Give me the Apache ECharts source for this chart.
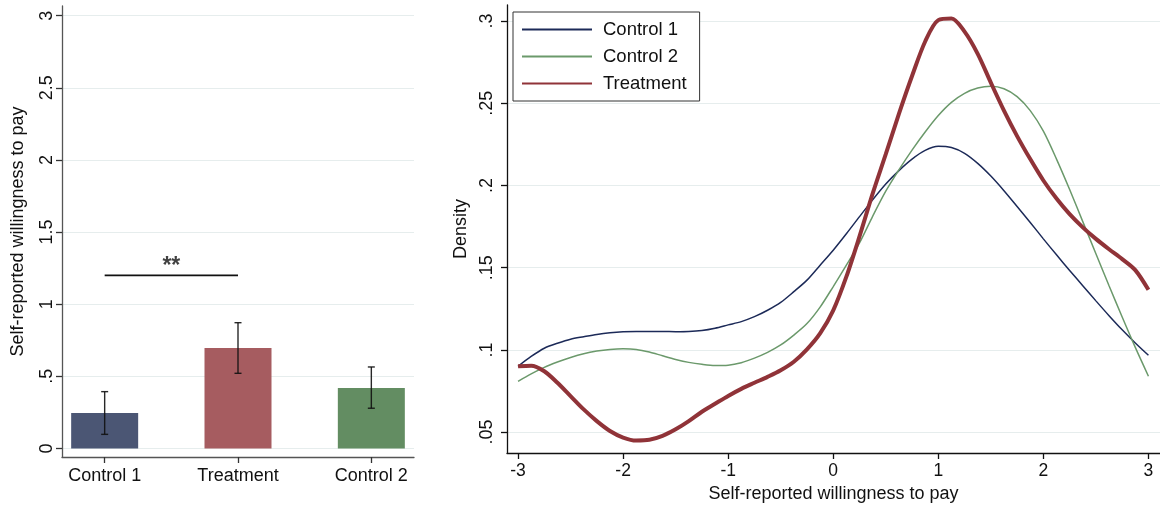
<!DOCTYPE html>
<html>
<head>
<meta charset="utf-8">
<script src="https://cdn.jsdelivr.net/npm/echarts@6/dist/echarts.min.js"></script>
<style>
html,body{margin:0;padding:0;background:#fff;}
#chart{width:1160px;height:508px;}
</style>
</head>
<body>
<div id="chart"></div>
<script>
// ---- Left panel data ----
const groups = ['Control 1', 'Treatment', 'Control 2'];
const groupPos = [1, 2, 3];
const means = [0.246, 0.696, 0.419];
const ciLow = [0.098, 0.521, 0.279];
const ciHigh = [0.394, 0.872, 0.565];
const barColors = ['#4b5674', '#a65c60', '#638d62'];
const sigFrom = 1, sigTo = 2, sigLevel = 1.2, sigText = '**';
const leftYTicks = [0, 0.5, 1, 1.5, 2, 2.5, 3];
const leftYLabels = ['0', '.5', '1', '1.5', '2', '2.5', '3'];

// ---- Right panel data (kernel densities, read at steps of 0.125) ----
const xGrid = [-3, -2.875, -2.75, -2.625, -2.5, -2.375, -2.25, -2.125, -2, -1.875, -1.75, -1.625,
               -1.5, -1.375, -1.25, -1.125, -1, -0.875, -0.75, -0.625, -0.5, -0.375, -0.25, -0.125,
               0, 0.125, 0.25, 0.375, 0.5, 0.625, 0.75, 0.875, 1, 1.125, 1.25, 1.375,
               1.5, 1.625, 1.75, 1.875, 2, 2.125, 2.25, 2.375, 2.5, 2.625, 2.75, 2.875, 3];
const densControl1 = [0.0900, 0.0960, 0.1010, 0.1040, 0.1065, 0.1080, 0.1094, 0.1104, 0.1110, 0.1112, 0.1112, 0.1112,
                      0.1111, 0.1112, 0.1118, 0.1132, 0.1152, 0.1172, 0.1202, 0.1241, 0.1289, 0.1354, 0.1424, 0.1515,
                      0.1606, 0.1706, 0.1810, 0.1912, 0.2008, 0.2090, 0.2160, 0.2213, 0.2238, 0.2230, 0.2195, 0.2134,
                      0.2057, 0.1968, 0.1872, 0.1775, 0.1675, 0.1578, 0.1483, 0.1390, 0.1298, 0.1208, 0.1122, 0.1042, 0.0967];
const densControl2 = [0.0809, 0.0854, 0.0894, 0.0926, 0.0954, 0.0977, 0.0993, 0.1003, 0.1007, 0.1003, 0.0987, 0.0964,
                      0.0942, 0.0924, 0.0912, 0.0905, 0.0907, 0.0922, 0.0950, 0.0985, 0.1030, 0.1090, 0.1160, 0.1260,
                      0.1385, 0.1515, 0.1650, 0.1812, 0.1965, 0.2095, 0.2215, 0.2325, 0.2425, 0.2505, 0.2560, 0.2592,
                      0.2603, 0.2588, 0.2540, 0.2455, 0.2330, 0.2160, 0.1975, 0.1780, 0.1585, 0.1390, 0.1200, 0.1015, 0.0840];
const densTreatment = [0.0900, 0.0904, 0.0870, 0.0800, 0.0719, 0.0638, 0.0567, 0.0507, 0.0467, 0.0449, 0.0453, 0.0477,
                       0.0517, 0.0567, 0.0624, 0.0672, 0.0720, 0.0763, 0.0800, 0.0836, 0.0876, 0.0928, 0.1003, 0.1100,
                       0.1240, 0.1445, 0.1690, 0.1950, 0.2190, 0.2435, 0.2665, 0.2875, 0.3005, 0.3015, 0.2935, 0.2800,
                       0.2625, 0.2455, 0.2300, 0.2160, 0.2030, 0.1920, 0.1825, 0.1745, 0.1675, 0.1612, 0.1552, 0.1485, 0.1365];
const rightXTicks = [-3, -2, -1, 0, 1, 2, 3];
const rightYTicks = [0.05, 0.1, 0.15, 0.2, 0.25, 0.3];
const rightYLabels = ['.05', '.1', '.15', '.2', '.25', '.3'];

const FONT = 'Arial, "Liberation Sans", Helvetica, sans-serif';
const gridLineColor = '#e6eded';

function zip(xs, ys) { return xs.map((x, i) => [x, ys[i]]); }

const chart = echarts.init(document.getElementById('chart'), null, {renderer: 'canvas'});

const option = {
  backgroundColor: '#fff',
  animation: false,
  textStyle: {fontFamily: FONT},
  grid: [
    {left: 62, top: 6, width: 352, height: 451},
    {left: 507, top: 5, right: 0, height: 450}
  ],
  xAxis: [
    {
      gridIndex: 0, type: 'value', min: 0.68, max: 3.32,
      axisLine: {show: true, onZero: false, lineStyle: {color: '#555', width: 1.3}},
      axisTick: {show: true, customValues: groupPos, length: 6, lineStyle: {color: '#333', width: 1.3}},
      axisLabel: {customValues: groupPos, color: '#111', fontSize: 18, fontFamily: FONT, margin: 10,
                  formatter: v => groups[Math.round(v) - 1] || ''},
      splitLine: {show: false}
    },
    {
      gridIndex: 1, type: 'value', min: -3.105, max: 3.11,
      name: 'Self-reported willingness to pay', nameLocation: 'middle', nameGap: 32,
      nameTextStyle: {color: '#111', fontSize: 18, fontFamily: FONT},
      axisLine: {show: true, onZero: false, lineStyle: {color: '#111', width: 1.3}},
      axisTick: {show: true, customValues: rightXTicks, length: 6, lineStyle: {color: '#111', width: 1.3}},
      axisLabel: {customValues: rightXTicks, color: '#111', fontSize: 17.5, fontFamily: FONT, margin: 9},
      splitLine: {show: false}
    }
  ],
  yAxis: [
    {
      gridIndex: 0, type: 'value', min: -0.059, max: 3.067,
      name: 'Self-reported willingness to pay', nameLocation: 'middle', nameGap: 35, nameRotate: 90,
      nameTextStyle: {color: '#111', fontSize: 18, fontFamily: FONT},
      axisLine: {show: true, onZero: false, lineStyle: {color: '#555', width: 1.3}},
      axisTick: {show: true, customValues: leftYTicks, length: 6, lineStyle: {color: '#333', width: 1.3}},
      axisLabel: {customValues: leftYTicks, rotate: 90, color: '#111', fontSize: 18, fontFamily: FONT, margin: 6,
                  formatter: v => leftYLabels[leftYTicks.findIndex(t => Math.abs(t - v) < 1e-6)] ?? ''},
      splitLine: {show: true, lineStyle: {color: gridLineColor, width: 1.2}}
    },
    {
      gridIndex: 1, type: 'value', min: 0.0373, max: 0.3097,
      name: 'Density', nameLocation: 'middle', nameGap: 35, nameRotate: 90,
      nameTextStyle: {color: '#111', fontSize: 18, fontFamily: FONT},
      axisLine: {show: true, onZero: false, lineStyle: {color: '#111', width: 1.3}},
      axisTick: {show: true, customValues: rightYTicks, length: 6, lineStyle: {color: '#111', width: 1.3}},
      axisLabel: {customValues: rightYTicks, rotate: 90, color: '#111', fontSize: 18, fontFamily: FONT, margin: 11,
                  formatter: v => rightYLabels[rightYTicks.findIndex(t => Math.abs(t - v) < 1e-6)] ?? ''},
      splitLine: {show: true, lineStyle: {color: gridLineColor, width: 1.2}}
    }
  ],
  legend: {
    data: ['Control 1', 'Control 2', 'Treatment'],
    orient: 'vertical', left: 513, top: 12,
    itemWidth: 70, itemHeight: 14, itemGap: 8,
    padding: [8, 13, 8, 8],
    borderColor: '#333', borderWidth: 1, backgroundColor: '#fff',
    itemStyle: {opacity: 0},
    textStyle: {color: '#111', fontSize: 18.5, lineHeight: 18, fontFamily: FONT, padding: [0, 0, 0, 6]},
    selectedMode: false
  },
  series: [
    {
      name: 'means', type: 'bar', xAxisIndex: 0, yAxisIndex: 0, barWidth: 67,
      data: groupPos.map((p, i) => ({value: [p, means[i]], itemStyle: {color: barColors[i]}})),
      silent: true
    },
    {
      name: 'ci', type: 'custom', xAxisIndex: 0, yAxisIndex: 0, silent: true, z: 5,
      data: groupPos.map((p, i) => [p, ciLow[i], ciHigh[i]]),
      renderItem: function (params, api) {
        const x = api.value(0);
        const lo = api.coord([x, api.value(1)]);
        const hi = api.coord([x, api.value(2)]);
        const cap = 3.5;
        const st = {stroke: '#111', lineWidth: 1.4, opacity: 0.9};
        return {type: 'group', children: [
          {type: 'line', shape: {x1: lo[0], y1: lo[1], x2: hi[0], y2: hi[1]}, style: st},
          {type: 'line', shape: {x1: lo[0] - cap, y1: lo[1], x2: lo[0] + cap, y2: lo[1]}, style: st},
          {type: 'line', shape: {x1: hi[0] - cap, y1: hi[1], x2: hi[0] + cap, y2: hi[1]}, style: st}
        ]};
      }
    },
    {
      name: 'sig', type: 'line', xAxisIndex: 0, yAxisIndex: 0, silent: true, symbol: 'none',
      lineStyle: {color: '#111', width: 1.6},
      data: [[sigFrom, sigLevel], [sigTo, sigLevel]]
    },
    {
      name: 'sigText', type: 'scatter', xAxisIndex: 0, yAxisIndex: 0, silent: true, symbolSize: 0,
      data: [[(sigFrom + sigTo) / 2, sigLevel]],
      label: {show: true, position: 'top', distance: -3, formatter: sigText, color: '#111', fontSize: 23, fontWeight: 'bold', fontFamily: FONT}
    },
    {
      name: 'Control 1', type: 'line', xAxisIndex: 1, yAxisIndex: 1, symbol: 'none', smooth: 0.3,
      color: '#1c2a58', lineStyle: {color: '#1c2a58', width: 1.5},
      data: zip(xGrid, densControl1), z: 3
    },
    {
      name: 'Control 2', type: 'line', xAxisIndex: 1, yAxisIndex: 1, symbol: 'none', smooth: 0.3,
      color: '#6b996b', lineStyle: {color: '#6b996b', width: 1.5},
      data: zip(xGrid, densControl2), z: 3
    },
    {
      name: 'Treatment', type: 'line', xAxisIndex: 1, yAxisIndex: 1, symbol: 'none', smooth: 0.3,
      color: '#903338', lineStyle: {color: '#903338', width: 4},
      data: zip(xGrid, densTreatment), z: 4
    }
  ]
};
chart.setOption(option);
</script>
</body>
</html>
